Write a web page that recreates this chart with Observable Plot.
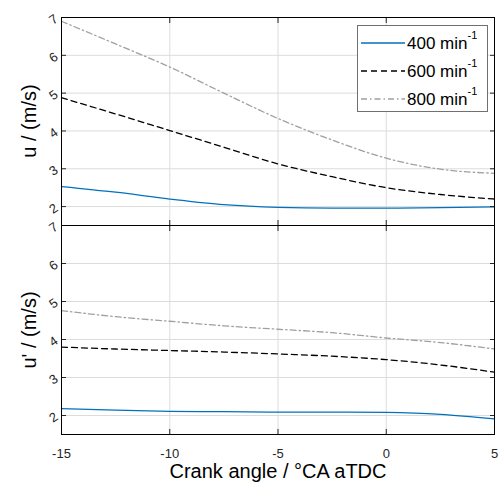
<!DOCTYPE html>
<html><head><meta charset="utf-8">
<script src="https://cdn.jsdelivr.net/npm/d3@7"></script>
<script src="https://cdn.jsdelivr.net/npm/@observablehq/plot@0.6"></script>
<style>
body{margin:0;background:#fff;font-family:"Liberation Sans",Arial,sans-serif}
#wrap{position:relative;width:500px;height:485px;overflow:hidden;background:#fff}
.p{position:absolute;left:0;overflow:visible}
.ylab{position:absolute;font-size:20px;line-height:1;transform:translate(-50%,-50%) rotate(-90deg);white-space:nowrap;color:#000}
.xlab{position:absolute;font-size:20px;line-height:1;transform:translate(-50%,-50%);white-space:nowrap;color:#000}
#legend{position:absolute;left:357px;top:25px;width:131px;height:87px;border:1px solid #707070;background:#fff;box-sizing:border-box}
.lrow{position:absolute;left:0;height:20px;width:130px}
.lrow svg{position:absolute;left:3px;top:4px}
.lrow span{position:absolute;left:49px;top:-1px;font-size:17px;white-space:nowrap}
.lrow sup{font-size:11px;position:relative;top:-3px}
</style></head>
<body><div id="wrap"></div>
<script>
const angle = [-15, -12.5, -10, -7.5, -5, -2.5, 0, 2.5, 5];
const speeds = ["400", "600", "800"];
const colors = ["#0072BD", "#000000", "#a0a0a0"];
const dashes = [null, "6,4", "6,3,1.5,3"];
// mean velocity u (m/s)
const u400 = [2.53, 2.38, 2.20, 2.05, 1.98, 1.96, 1.96, 1.97, 1.99];
const u600 = [4.88, 4.45, 4.01, 3.57, 3.13, 2.79, 2.50, 2.32, 2.20];
const u800 = [6.90, 6.30, 5.69, 5.00, 4.33, 3.76, 3.28, 2.99, 2.88];
// fluctuation u' (m/s)
const f400 = [2.18, 2.14, 2.11, 2.10, 2.09, 2.09, 2.08, 2.03, 1.91];
const f600 = [3.80, 3.75, 3.71, 3.67, 3.62, 3.56, 3.47, 3.33, 3.14];
const f800 = [4.76, 4.60, 4.48, 4.36, 4.27, 4.18, 4.04, 3.92, 3.75];
const xTicks = [-15, -10, -5, 0, 5];
const yTicks = [2, 3, 4, 5, 6, 7];
const legendLabels = ["400 min", "600 min", "800 min"];

function rows(series) {
  return speeds.flatMap((s, i) => angle.map((a, j) => ({angle: a, v: series[i][j], s, i})));
}

function panel(series, o) {
  const data = rows(series);
  return Plot.plot({
    width: 500, height: o.height, marginTop: o.mt, marginBottom: o.mb, marginLeft: 61, marginRight: 6,
    x: {domain: [-15, 5]},
    y: {domain: [1.5, 7]},
    style: {fontFamily: "Liberation Sans, Arial, sans-serif", fontSize: "13px", color: "#262626", background: "transparent", overflow: "visible"},
    marks: [
      Plot.gridX(xTicks, {stroke: "#dcdcdc", strokeOpacity: 1}),
      Plot.gridY(yTicks, {stroke: "#dcdcdc", strokeOpacity: 1}),
      ...speeds.map((s, i) => Plot.line(data.filter(d => d.i === i), {
        x: "angle", y: "v", stroke: colors[i], strokeWidth: 1.3,
        strokeDasharray: dashes[i], curve: "monotone-x"
      })),
      Plot.axisY(yTicks, {anchor: "left", tickSize: -5, tickPadding: 10, tickRotate: -35, label: null, tickFormat: d => String(d)}),
      Plot.axisY(yTicks, {anchor: "right", tickSize: -5, tickFormat: () => "", label: null}),
      Plot.axisX(xTicks, {anchor: "top", tickSize: -5, tickFormat: () => "", label: null}),
      Plot.axisX(xTicks, {anchor: "bottom", tickSize: -5, tickPadding: 19, label: null,
        tickFormat: o.xlabels ? (d => String(d)) : (() => "")}),
      Plot.frame({stroke: "#000", strokeWidth: 1})
    ]
  });
}

const wrap = document.getElementById("wrap");
const p1 = panel([u400, u600, u800], {height: 226, mt: 17, mb: 1, xlabels: false});
p1.classList.add("p"); p1.style.top = "0px";
const p2 = panel([f400, f600, f800], {height: 262, mt: 1, mb: 52, xlabels: true});
p2.classList.add("p"); p2.style.top = "224px";
wrap.appendChild(p1);
wrap.appendChild(p2);

function addText(cls, txt, x, y) {
  const d = document.createElement("div");
  d.className = cls; d.textContent = txt;
  d.style.left = x + "px"; d.style.top = y + "px";
  wrap.appendChild(d);
}
addText("ylab", "u / (m/s)", 29, 121);
addText("ylab", "u' / (m/s)", 29, 330);
addText("xlab", "Crank angle / °CA aTDC", 278, 471);

const lg = document.createElement("div");
lg.id = "legend";
speeds.forEach((s, i) => {
  const r = document.createElement("div");
  r.className = "lrow";
  r.style.top = (7 + i * 28) + "px";
  r.innerHTML = `<svg width="44" height="12"><line x1="0" x2="44" y1="6" y2="6" stroke="${colors[i]}" stroke-width="1.5" ${dashes[i] ? `stroke-dasharray="${dashes[i]}"` : ""}/></svg><span>${legendLabels[i]}<sup>-1</sup></span>`;
  lg.appendChild(r);
});
wrap.appendChild(lg);
</script></body></html>
